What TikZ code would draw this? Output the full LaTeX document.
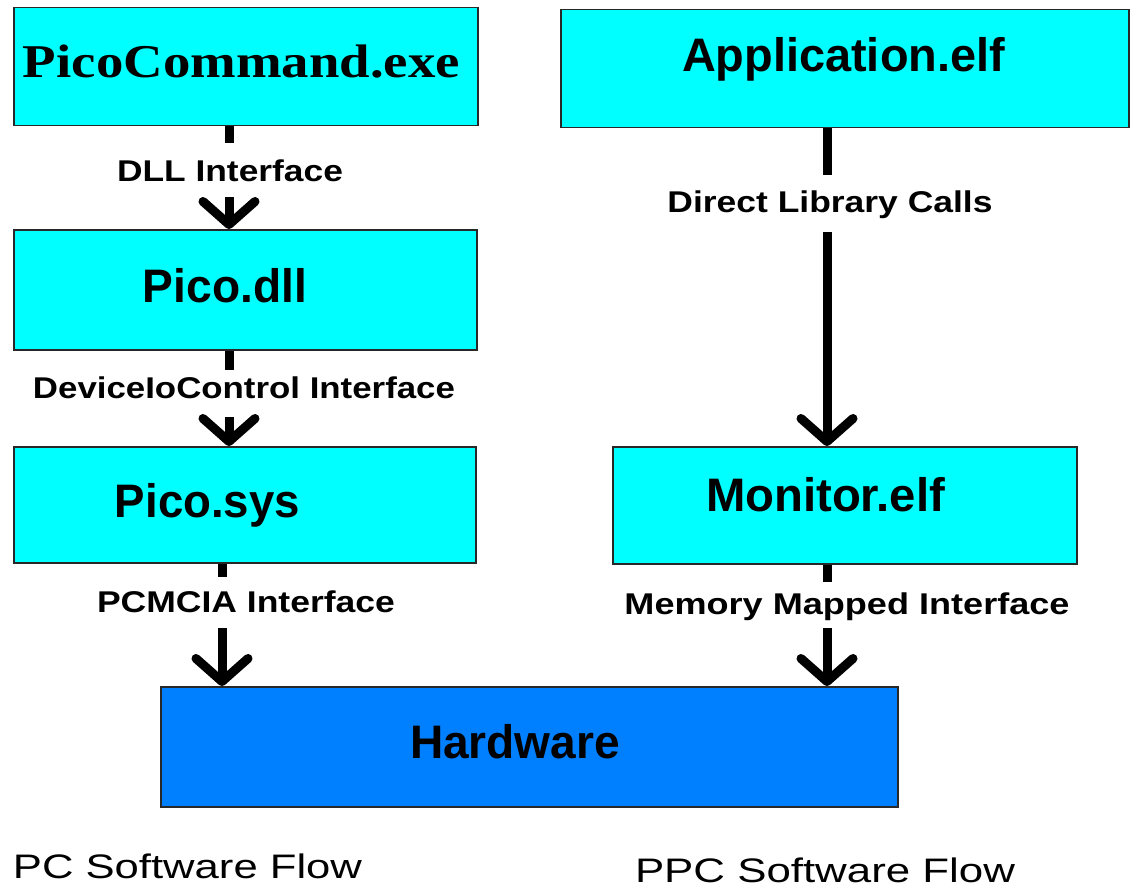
\documentclass[tikz,border=0pt]{standalone}
\usepackage{fontspec}
\usepackage{graphicx}
\setmainfont{Liberation Sans}
\newfontfamily\titleserif{Liberation Serif}
\usetikzlibrary{arrows.meta}

\definecolor{boxcyan}{RGB}{0,255,255}
\definecolor{hwblue}{RGB}{0,128,255}
\definecolor{edgegray}{RGB}{40,40,40}

% stretch a text horizontally to a given width (in pt), keeping its height
\newcommand{\stretchto}[2]{\resizebox{#1pt}{\height}{#2}}

\begin{document}
\begin{tikzpicture}[x=1pt,y=-1pt,
  blockbox/.style={draw=edgegray, line width=1.5pt, fill=boxcyan,
                   inner sep=0pt, anchor=north west},
  txt/.style={anchor=base, inner sep=0pt},
  boxtext/.style={txt, font=\bfseries\fontsize{47}{50}\selectfont},
  seriftext/.style={txt, font=\titleserif\bfseries\fontsize{47}{50}\selectfont},
  linktext/.style={txt, font=\bfseries\fontsize{30}{32}\selectfont},
  flowtext/.style={txt, font=\fontsize{34}{36}\selectfont},
  link/.style={line width=9pt},
  linkarrow/.style={link, -{Straight Barb[length=23pt,width=52pt,round]}}
]
\useasboundingbox (0,0) rectangle (1135,888);
\fill[white] (0,0) rectangle (1135,888);

% ---- blocks
\node[blockbox, minimum width=464pt, minimum height=118pt] (pcmd) at (13,7) {};
\node[blockbox, minimum width=568pt, minimum height=118pt] (app)  at (560,9) {};
\node[blockbox, minimum width=463pt, minimum height=120pt] (dll)  at (13,229) {};
\node[blockbox, minimum width=462pt, minimum height=116pt] (sys)  at (13,446) {};
\node[blockbox, minimum width=464pt, minimum height=117pt] (mon)  at (612,446) {};
\node[blockbox, fill=hwblue, minimum width=737pt, minimum height=120pt] (hw) at (160,686) {};

% ---- block titles
\node[seriftext] (pcmdt) at (241.5,78) {\stretchto{437}{PicoCommand.exe}};
\node[boxtext] (appt) at (843.5,72) {\stretchto{323}{Application.elf}};
\node[boxtext] (dllt) at (225,302) {\stretchto{164}{Pico.dll}};
\node[boxtext] (syst) at (207.5,517) {\stretchto{185}{Pico.sys}};
\node[boxtext] (mont) at (825.5,511) {\stretchto{239}{Monitor.elf}};
\node[boxtext] (hwt) at (515,758) {\stretchto{210}{Hardware}};

% ---- gap ends of the connectors around their labels
\coordinate (g1a) at (229,143); \coordinate (g1b) at (229,197);
\coordinate (g2a) at (229,370); \coordinate (g2b) at (229,417);
\coordinate (g3a) at (222,577); \coordinate (g3b) at (222,628);
\coordinate (g4a) at (827,175); \coordinate (g4b) at (827,232);
\coordinate (g5a) at (827,582); \coordinate (g5b) at (827,628);

% ---- connectors
\draw[link] (pcmd.south -| g1a) -- (g1a);
\draw[linkarrow] (g1b) -- (dll.north -| g1b);
\draw[link] (dll.south -| g2a) -- (g2a);
\draw[linkarrow] (g2b) -- (sys.north -| g2b);
\draw[link] (sys.south -| g3a) -- (g3a);
\draw[linkarrow] (g3b) -- (hw.north -| g3b);
\draw[link] (app.south -| g4a) -- (g4a);
\draw[linkarrow] (g4b) -- (mon.north -| g4b);
\draw[link] (mon.south -| g5a) -- (g5a);
\draw[linkarrow] (g5b) -- (hw.north -| g5b);

% ---- connector labels
\node[linktext] (l1) at (230,182) {\stretchto{226}{DLL Interface}};
\node[linktext] (l2) at (244,398) {\stretchto{422}{DeviceIoControl Interface}};
\node[linktext] (l3) at (246,612) {\stretchto{298}{PCMCIA Interface}};
\node[linktext] (l4) at (830,212) {\stretchto{325}{Direct Library Calls}};
\node[linktext] (l5) at (847,614) {\stretchto{445}{Memory Mapped Interface}};

% ---- column captions
\node[flowtext] (pcflow) at (187.5,878) {\stretchto{349}{PC Software Flow}};
\node[flowtext] (ppcflow) at (825,882) {\stretchto{380}{PPC Software Flow}};
\end{tikzpicture}
\end{document}
